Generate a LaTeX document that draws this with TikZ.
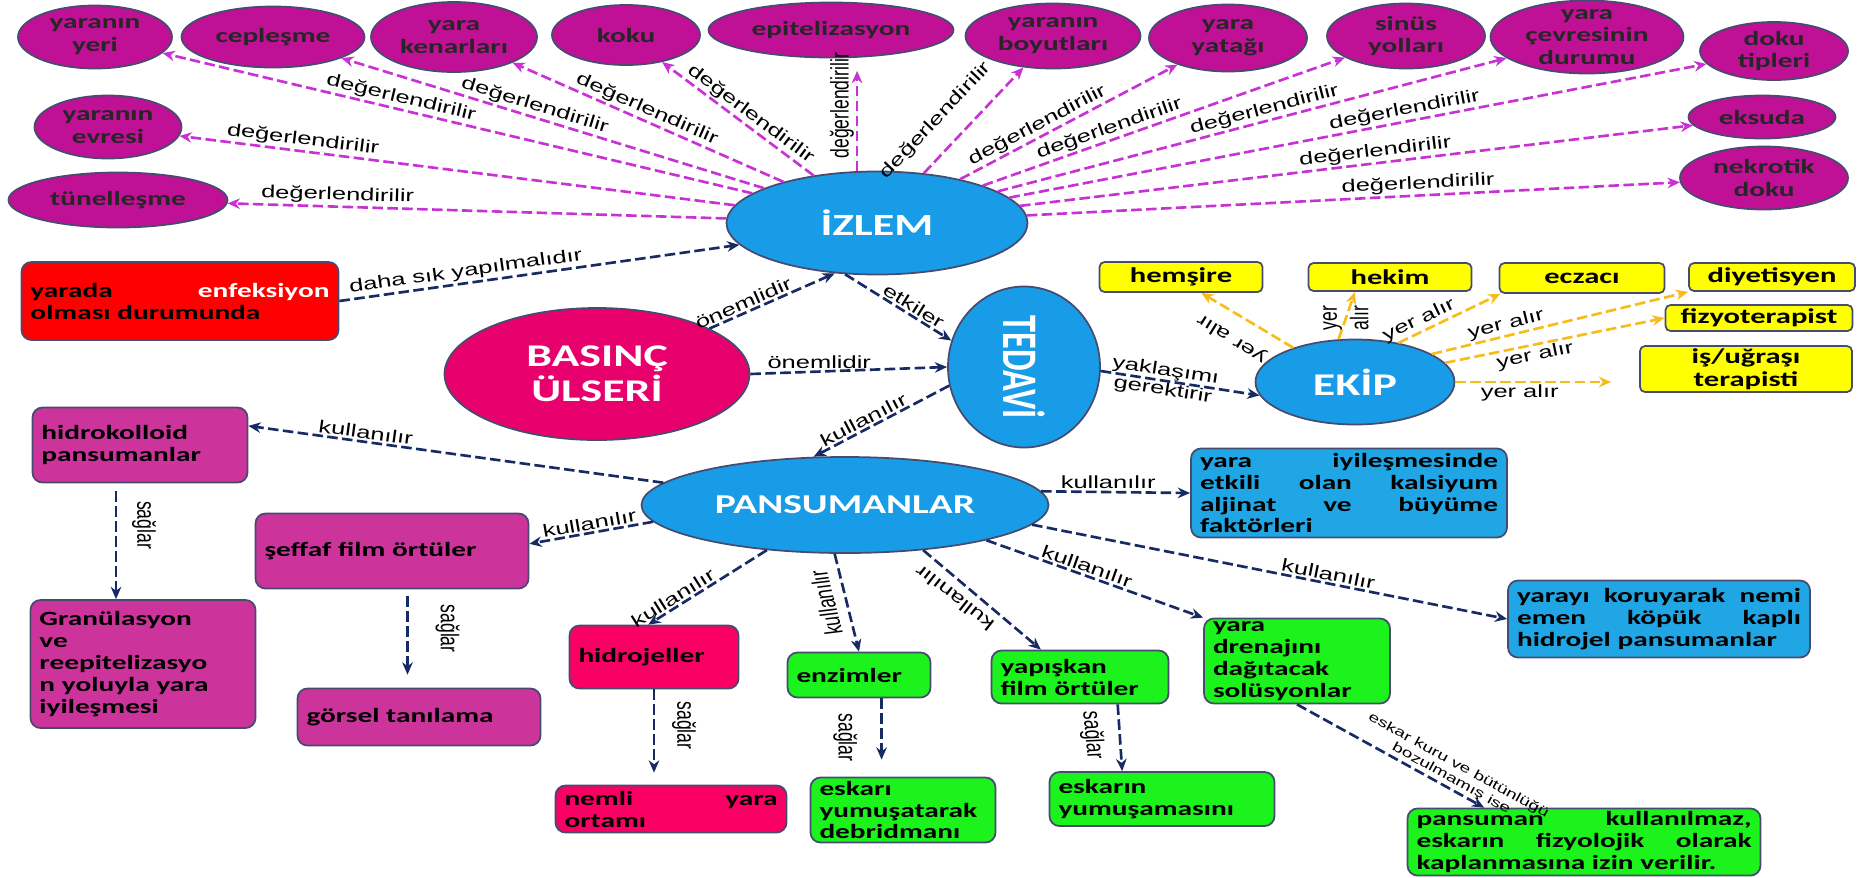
\documentclass[tikz,border=0pt]{standalone}
\usepackage{graphicx}
\usepackage{fontspec}
\setmainfont{Liberation Sans}[FakeStretch=1.45]
\newfontfamily\duz{Liberation Sans}
\newfontfamily\kalin{Carlito}[FakeStretch=1.45]
\newfontfamily\dar{Carlito}
\usetikzlibrary{shapes.geometric,arrows.meta}

\definecolor{mor}{RGB}{192,16,150}
\definecolor{pembe}{RGB}{204,52,156}
\definecolor{mavi}{RGB}{24,156,232}
\definecolor{acikmavi}{RGB}{32,166,228}
\definecolor{kirmizipembe}{RGB}{232,0,108}
\definecolor{fusya}{RGB}{250,0,100}
\definecolor{yesil}{RGB}{28,242,28}
\definecolor{sari}{RGB}{255,255,0}
\definecolor{kenar}{RGB}{70,76,112}
\definecolor{lacivert}{RGB}{22,42,100}
\definecolor{morok}{RGB}{200,50,212}
\definecolor{turuncu}{RGB}{248,188,24}

% dik yazilar: harf boyu yatayda genis
\newcommand\dikyazi[2]{\scalebox{1.45}[1]{\rotatebox{#1}{\duz #2}}}

\tikzset{
  elips/.style 2 args={ellipse, draw=kenar, line width=1pt, inner sep=0pt, align=center,
    minimum width=#1*0.02cm, minimum height=#2*0.02cm},
  kriter/.style 2 args={elips={#1}{#2}, fill=mor, text=black!85,
    font=\kalin\bfseries\fontsize{11.5}{13}\selectfont},
  ana/.style 2 args={elips={#1}{#2}, fill=mavi, text=white,
    font=\kalin\bfseries\fontsize{17.5}{20}\selectfont},
  kutu/.style 2 args={rectangle, rounded corners=0.2cm, draw=kenar, line width=1pt,
    inner xsep=0.18cm, inner ysep=1pt, align=left, text width=#1*0.02cm-0.36cm,
    minimum height=#2*0.02cm, font=\kalin\bfseries\fontsize{11.5}{12.5}\selectfont},
  sarikutu/.style 2 args={rectangle, rounded corners=0.1cm, draw=kenar, fill=sari,
    line width=1pt, inner sep=0pt, align=center, minimum width=#1*0.02cm,
    minimum height=#2*0.02cm, font=\kalin\bfseries\fontsize{12}{13}\selectfont},
  etiket/.style={font=\fontsize{10}{11}\selectfont, inner sep=1pt, text=black},
  degerlendir/.style={draw=morok, line width=1.5pt, dash pattern=on 6pt off 2.5pt,
    -{Stealth[length=7pt,width=6pt]}},
  ok/.style={draw=lacivert, line width=1.5pt, dash pattern=on 6pt off 2.5pt,
    -{Stealth[length=7pt,width=6pt]}},
  sariok/.style={draw=turuncu, line width=1.5pt, dash pattern=on 6pt off 2.5pt,
    -{Stealth[length=7pt,width=6pt]}}
}

\begin{document}
\begin{tikzpicture}[x=0.02cm, y=-0.02cm]
\useasboundingbox (0,0) rectangle (1859,877);

\node[kriter={154}{63}] (yeri) at (95,37) {yaranın\\yeri};
\node[kriter={183}{61}] (ceplesme) at (273,37) {cepleşme};
\node[kriter={166}{70}] (kenar) at (454,37) {yara\\kenarları};
\node[kriter={148}{60}] (koku) at (626,35) {koku};
\node[kriter={245}{55}] (epitel) at (831,30) {epitelizasyon};
\node[kriter={175}{65}] (boyut) at (1053,36) {yaranın\\boyutları};
\node[kriter={158}{67}] (yatak) at (1228,38) {yara\\yatağı};
\node[kriter={158}{65}] (sinus) at (1406,36) {sinüs\\yolları};
\node[kriter={193}{73}, inner ysep=-6pt] (cevre) at (1587,37) {yara\\çevresinin\\durumu};
\node[kriter={148}{58}] (dokutip) at (1774,51) {doku\\tipleri};
\node[kriter={147}{43}] (eksuda) at (1762,117) {eksuda};
\node[kriter={168}{63}] (nekrotik) at (1764,178) {nekrotik\\doku};
\node[kriter={147}{63}] (evre) at (108,127) {yaranın\\evresi};
\node[kriter={219}{55}] (tunel) at (118,200) {tünelleşme};

\node[ana={301}{103}] (izlem) at (877,223) {İZLEM};
\node[elips={305}{132}, fill=kirmizipembe, text=white, font=\kalin\bfseries\fontsize{18}{20}\selectfont] (basinc) at (597,374) {BASINÇ\\ÜLSERİ};
\node[ana={152}{161}] (tedavi) at (1024,367) {\scalebox{1.45}[1]{\rotatebox{-90}{\dar\bfseries\fontsize{19.5}{20}\selectfont TEDAVİ}}};
\node[ana={199}{85}, font=\kalin\bfseries\fontsize{18}{20}\selectfont] (ekip) at (1355,382) {EKİP};
\node[ana={407}{96}, font=\kalin\bfseries\fontsize{15.5}{18}\selectfont] (pans) at (845,505) {PANSUMANLAR};

\node[kutu={317}{78}, fill=red] (enfeksiyon) at (180,301) {yarada\hfill\textcolor{white}{enfeksiyon}\\olması durumunda};
\node[kutu={215}{75}, fill=pembe] (hidro) at (140,445) {hidrokolloid\\pansumanlar};
\node[kutu={273}{75}, fill=pembe] (seffaf) at (392,551) {şeffaf film örtüler};
\node[kutu={225}{128}, fill=pembe] (granul) at (143,664) {Granülasyon\\ve\\reepitelizasyo\\n yoluyla yara\\iyileşmesi};
\node[kutu={243}{57}, fill=pembe] (gorsel) at (419,717) {görsel tanılama};
\node[kutu={169}{63}, fill=fusya] (hidrojel) at (654,657) {hidrojeller};
\node[kutu={231}{47}, fill=fusya] (nemli) at (671,809) {nemli\hfill yara\\ortamı};
\node[kutu={143}{45}, fill=yesil] (enzim) at (859,675) {enzimler};
\node[kutu={185}{65}, fill=yesil] (eskari) at (903,810) {eskarı\\yumuşatarak\\debridmanı};
\node[kutu={177}{53}, fill=yesil] (yapiskan) at (1080,677) {yapışkan\\film örtüler};
\node[kutu={225}{54}, fill=yesil] (eskarin) at (1162,799) {eskarın\\yumuşamasını};
\node[kutu={186}{85}, fill=yesil] (drenaj) at (1297,661) {yara\\drenajını\\dağıtacak\\solüsyonlar};
\node[kutu={316}{89}, fill=acikmavi] (kalsiyum) at (1349,493) {yara\hfill iyileşmesinde\\etkili\hfill olan\hfill kalsiyum\\aljinat\hfill ve\hfill büyüme\\faktörleri};
\node[kutu={302}{77}, fill=acikmavi] (koruyarak) at (1659,619) {yarayı\hfill koruyarak\hfill nemi\\emen\hfill köpük\hfill kaplı\\hidrojel pansumanlar};
\node[kutu={353}{67}, fill=yesil] (kullanilmaz) at (1584,842) {pansuman\hfill kullanılmaz,\\eskarın\hfill fizyolojik\hfill olarak\\kaplanmasına izin verilir.};

\node[sarikutu={163}{30}] (hemsire) at (1181,277) {hemşire};
\node[sarikutu={163}{28}] (hekim) at (1390,277) {hekim};
\node[sarikutu={165}{30}] (eczaci) at (1582,278) {eczacı};
\node[sarikutu={166}{28}] (diyetisyen) at (1772,277) {diyetisyen};
\node[sarikutu={187}{26}] (fizyo) at (1759,318) {fizyoterapist};
\node[sarikutu={212}{46}] (isugrasi) at (1746,369) {iş/uğraşı\\terapisti};

\draw[degerlendir] (izlem) -- node[etiket, sloped, above=0pt, pos=0.6] {değerlendirilir} (yeri);
\draw[degerlendir] (izlem) -- node[etiket, sloped, above=0pt, pos=0.55] {değerlendirilir} (ceplesme);
\draw[degerlendir] (izlem) -- node[etiket, sloped, above=0pt, pos=0.52] {değerlendirilir} (kenar);
\draw[degerlendir] (izlem) -- node[etiket, sloped, above=0pt, pos=0.46] {değerlendirilir} (koku);
\draw[degerlendir, shorten >=0.25cm] (izlem.111) -- node[etiket, left, pos=0.58] {\dikyazi{90}{değerlendirilir}} (izlem.111 |- epitel.south);
\draw[degerlendir] (izlem) -- node[etiket, sloped, above=9pt, pos=0.32] {değerlendirilir} (boyut);
\draw[degerlendir] (izlem) -- node[etiket, sloped, above, pos=0.38] {değerlendirilir} (yatak);
\draw[degerlendir] (izlem) -- node[etiket, sloped, above, pos=0.36] {değerlendirilir} (sinus);
\draw[degerlendir] (izlem) -- node[etiket, sloped, above, pos=0.53] {değerlendirilir} (cevre);
\draw[degerlendir] (izlem) -- node[etiket, sloped, above, pos=0.57] {değerlendirilir} (dokutip);
\draw[degerlendir] (izlem) -- node[etiket, sloped, above, pos=0.53] {değerlendirilir} (eksuda);
\draw[degerlendir] (izlem) -- node[etiket, sloped, above, pos=0.6] {değerlendirilir} (nekrotik);
\draw[degerlendir] (izlem) -- node[etiket, sloped, above=0pt, pos=0.78] {değerlendirilir} (evre);
\draw[degerlendir] (izlem) -- node[etiket, sloped, above, pos=0.78] {değerlendirilir} (tunel);

\draw[ok] (enfeksiyon.east) -- node[etiket, sloped, above, pos=0.32] {daha sık yapılmalıdır} (izlem.189);
\draw[ok] (basinc.22) -- node[etiket, sloped, above, pos=0.3] {önemlidir} (izlem.230);
\draw[ok] (basinc.east) -- node[etiket, above, pos=0.35] {önemlidir} (tedavi.west);
\draw[ok] (izlem.238) -- node[etiket, sloped, above, pos=0.6] {etkiler} (tedavi.160);
\draw[ok] (tedavi.194) -- node[etiket, sloped, above, pos=0.6] {kullanılır} (pans.123);
\draw[ok] (tedavi.-3) -- node[etiket, sloped, align=center, pos=0.4] {yaklaşımı\\gerektirir} (ekip.188);

\draw[ok] (pans.173) -- node[etiket, sloped, above, pos=0.72] {kullanılır} (hidro.10);
\draw[ok] (pans.185) -- node[etiket, sloped, above, pos=0.5] {kullanılır} (seffaf.3);
\draw[ok] (pans.210) -- node[etiket, sloped, above, pos=0.75] {kullanılır} (hidrojel.100);
\draw[ok] (pans.258) -- node[etiket, xshift=-0.42cm, pos=0.5] {\dikyazi{100}{kullanılır}} (enzim.north);
\draw[ok] (pans.330) -- node[etiket, xshift=-0.2cm, yshift=-0.26cm, rotate=142, pos=0.35] {kullanılır} (yapiskan.145);
\draw[ok] (pans.346) -- node[etiket, sloped, above, pos=0.45] {kullanılır} (drenaj.north west);
\draw[ok] (pans.354) -- node[etiket, sloped, above, pos=0.62] {kullanılır} (koruyarak.west);
\draw[ok] (pans.4) -- node[etiket, above, pos=0.45] {kullanılır} (kalsiyum.west);

\draw[ok, shorten <=0.16cm] (hidro.238) -- node[etiket, right=0.26cm, pos=0.36] {\dikyazi{-90}{sağlar}} (hidro.238 |- granul.north);
\draw[ok, shorten <=0.14cm, shorten >=0.26cm] (seffaf.292) -- node[etiket, right=0.5cm, pos=0.4] {\dikyazi{-90}{sağlar}} (seffaf.292 |- gorsel.north);
\draw[ok, shorten >=0.24cm] (hidrojel.south) -- node[etiket, right=0.3cm, pos=0.38] {\dikyazi{-90}{sağlar}} (hidrojel.south |- nemli.north);
\draw[ok, shorten >=0.34cm] (enzim.314) -- node[etiket, left=0.42cm, pos=0.5] {\dikyazi{-90}{sağlar}} (enzim.314 |- eskari.north);
\draw[ok] (yapiskan.324) -- node[etiket, left=0.2cm, pos=0.46] {\dikyazi{-86}{sağlar}} (eskarin.145);
\draw[ok] (drenaj.south) -- node[etiket, sloped, above, align=center, pos=0.8, font=\fontsize{7.5}{8.5}\selectfont] {eskar kuru ve bütünlüğü\\bozulmamış ise} (kullanilmaz.161);

\draw[sariok] (ekip.151) -- node[etiket, yshift=-0.55cm, rotate=148, pos=0.67] {yer alır} (hemsire.322);
\draw[sariok] (ekip.111) -- node[etiket, pos=0.45] {\dikyazi{90}{\shortstack{yer\\alır}}} (hekim.203);
\draw[sariok] (ekip.42) -- node[etiket, sloped, above, pos=0.25] {yer alır} (eczaci.191);
\draw[sariok] (ekip.20) -- node[etiket, sloped, above, pos=0.3] {yer alır} (diyetisyen.south west);
\draw[sariok] (ekip.12) -- node[etiket, sloped, below, pos=0.4] {yer alır} (fizyo.west);
\draw[sariok, shorten >=0.56cm] (ekip.east) -- node[etiket, below, pos=0.35] {yer alır} (ekip.east -| isugrasi.west);
\end{tikzpicture}
\end{document}
